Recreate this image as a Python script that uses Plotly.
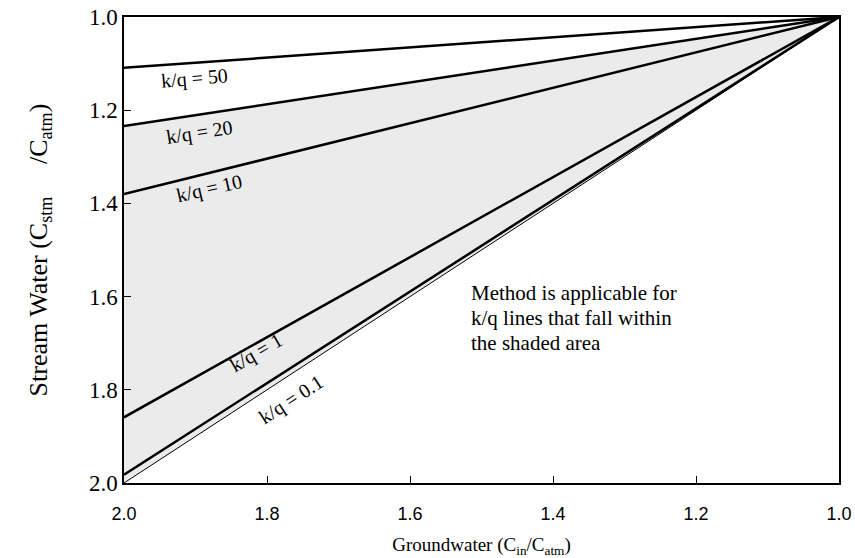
import plotly.graph_objects as go

# Data
x_ends = [2.0, 1.0]
kq_labels = ["k/q = 50", "k/q = 20", "k/q = 10", "k/q = 1", "k/q = 0.1"]
kq_start = [1.109, 1.234, 1.380, 1.859, 1.982]   # y at x = 2.0
kq_end = [1.0, 1.0, 1.0, 1.0, 1.0]                # y at x = 1.0
limit_start = 2.0                                 # thin 1:1 line
limit_end = 1.0
# label anchor positions (data coords) and angles
lab_x = [1.902, 1.895, 1.880, 1.814, 1.766]
lab_y = [1.131, 1.247, 1.369, 1.721, 1.820]
lab_ang = [-5, -9, -13, -30, -33]
note_lines = ["Method is applicable for", "k/q lines that fall within", "the shaded area"]
note_x = 1.518
note_y = [1.592, 1.646, 1.700]
tick_vals = [2.0, 1.8, 1.6, 1.4, 1.2, 1.0]
tick_text = ["2.0", "1.8", "1.6", "1.4", "1.2", "1.0"]

SERIF = "Liberation Serif"
SANS = "Liberation Sans"

fig = go.Figure()

# shaded region between k/q = 20 line and the 1:1 line
fig.add_trace(go.Scatter(
    x=[x_ends[0], x_ends[1], x_ends[0]],
    y=[kq_start[1], kq_end[1], limit_start],
    fill="toself", fillcolor="#ebebeb", line=dict(width=0),
    mode="lines", hoverinfo="skip", showlegend=False))

# thin 1:1 line
fig.add_trace(go.Scatter(
    x=x_ends, y=[limit_start, limit_end], mode="lines",
    line=dict(color="black", width=1), showlegend=False))

for s, e in zip(kq_start, kq_end):
    fig.add_trace(go.Scatter(
        x=x_ends, y=[s, e], mode="lines",
        line=dict(color="black", width=2.5), showlegend=False))

for t, lx, ly, a in zip(kq_labels, lab_x, lab_y, lab_ang):
    fig.add_annotation(x=lx, y=ly, text=t, showarrow=False, textangle=a,
                       font=dict(family=SERIF, size=20, color="black"))

for t, ly in zip(note_lines, note_y):
    fig.add_annotation(x=note_x, y=ly, xanchor="left", yanchor="middle", align="left",
                       text=t, showarrow=False,
                       font=dict(family=SERIF, size=21, color="black"))

fig.update_layout(
    width=855, height=558,
    margin=dict(l=124, r=16, t=17, b=75),
    paper_bgcolor="white", plot_bgcolor="white",
    font=dict(family=SERIF, color="black"),
    showlegend=False,
    xaxis=dict(range=[2.0, 1.0], tickvals=tick_vals, ticktext=tick_text,
               ticks="inside", ticklen=7, tickwidth=1, tickcolor="black",
               showline=True, linecolor="black", linewidth=1.5, mirror=True,
               showgrid=False, zeroline=False, ticklabelstandoff=14, automargin=False,
               tickfont=dict(family=SANS, size=18, color="black"),
               title=dict(text="Groundwater (C<sub>in</sub>/C<sub>atm</sub>)",
                          font=dict(family=SERIF, size=19, color="black"), standoff=15)),
    yaxis=dict(range=[2.0, 1.0], tickvals=tick_vals, ticktext=tick_text,
               ticks="inside", ticklen=7, tickwidth=1, tickcolor="black",
               showline=True, linecolor="black", linewidth=1.5, mirror=True,
               showgrid=False, zeroline=False, automargin=False,
               tickfont=dict(family=SERIF, size=23, color="black"),
               title=dict(text="Stream Water (C<sub>stm</sub>     /C<sub>atm</sub>)",
                          font=dict(family=SERIF, size=26, color="black"), standoff=34)),
)

fig.write_html("out.html")
